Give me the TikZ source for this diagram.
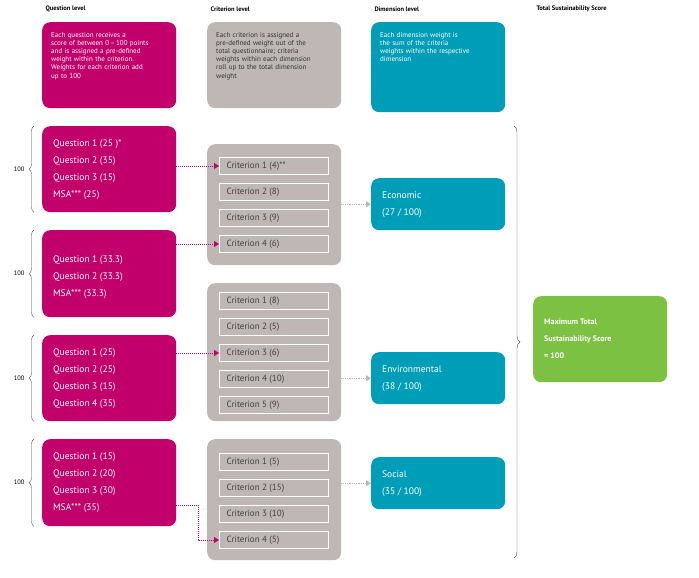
\documentclass[tikz,border=0pt]{standalone}
\usepackage{fontspec}
\setmainfont{PT Sans}
\usetikzlibrary{arrows.meta,decorations.pathreplacing,calc}
\definecolor{qmag}{HTML}{C2006B}
\definecolor{cgray}{HTML}{BEB7B3}
\definecolor{dteal}{HTML}{009DB8}
\definecolor{tgreen}{HTML}{7DC142}
\tikzset{
  box/.style={rounded corners=8pt, anchor=north west, inner sep=0pt},
  qbox/.style={box, fill=qmag},
  cbox/.style={box, fill=cgray},
  dbox/.style={box, fill=dteal},
  crit/.style={draw=white, line width=1pt, fill=cgray, anchor=north west, minimum width=109pt, minimum height=17pt, inner sep=0pt},
  crittext/.style={anchor=west, font=\fontsize{9}{11}\selectfont, text=black!75},
  head/.style={anchor=west, font=\fontsize{6.5}{8}\selectfont\bfseries},
  note/.style={anchor=north west, align=left, text=white, font=\fontsize{7}{8.2}\selectfont, inner sep=0pt},
  qtext/.style={anchor=west, align=left, text=white, font=\fontsize{9.5}{17}\selectfont, inner sep=0pt},
  qarrow/.style={qmag, densely dotted, line width=1pt, -{Triangle[length=5pt,width=6pt]}},
  garrow/.style={cgray, densely dotted, line width=0.8pt, -{Triangle[length=5pt,width=6pt]}},
  lbrace/.style={decorate, decoration={brace, amplitude=5pt, mirror}, black!70, thin},
}
\begin{document}
\begin{tikzpicture}[x=1pt,y=-1pt]
    \useasboundingbox (0,0) rectangle (699,578);
    %HEADERS
    \node[head] at (42,9) {Question level};
    \node[head] at (207,9) {Criterion level};
    \node[head] at (371,9) {Dimension level};
    \node[head] at (533,9) {Total Sustainability Score};
    %NOTES
    \node[qbox, minimum width=134pt, minimum height=86pt] (qnote) at (42,22) {};
    \node[note, text width=122pt] at ($(qnote.north west)+(9,10)$) {Each question receives a\\score of between 0\,–\,100 points\\and is assigned a pre-defined\\weight within the criterion.\\Weights for each criterion add\\up to 100};
    \node[cbox, minimum width=134pt, minimum height=86pt] (cnote) at (207,22) {};
    \node[note, text=black!80, text width=122pt] at ($(cnote.north west)+(9,10)$) {Each criterion is assigned a\\pre-defined weight out of the\\total questionnaire; criteria\\weights within each dimension\\roll up to the total dimension\\weight};
    \node[dbox, minimum width=134pt, minimum height=90pt] (dnote) at (371,22) {};
    \node[note, text width=122pt] at ($(dnote.north west)+(9,10)$) {Each dimension weight is\\the sum of the criteria\\weights within the respective\\dimension};
    %QUESTIONS
    \node[qbox, minimum width=134pt, minimum height=86pt] (q1) at (42,126) {};
    \node[qtext] at ($(q1.west)+(11,0)$) {Question 1 (25 )*\\Question 2 (35)\\Question 3 (15)\\MSA*** (25)};
    \node[qbox, minimum width=134pt, minimum height=87pt] (q2) at (42,230) {};
    \node[qtext] at ($(q2.west)+(11,3)$) {Question 1 (33.3)\\Question 2 (33.3)\\MSA*** (33.3)};
    \node[qbox, minimum width=134pt, minimum height=86pt] (q3) at (42,335) {};
    \node[qtext] at ($(q3.west)+(11,0)$) {Question 1 (25)\\Question 2 (25)\\Question 3 (15)\\Question 4 (35)};
    \node[qbox, minimum width=134pt, minimum height=87pt] (q4) at (42,439) {};
    \node[qtext] at ($(q4.west)+(11,0)$) {Question 1 (15)\\Question 2 (20)\\Question 3 (30)\\MSA*** (35)};
    %BRACES
    \foreach \q in {q1,q2,q3,q4}{
      \draw[lbrace] ($(\q.north west)+(-8,0)$) -- ($(\q.south west)+(-8,0)$)
        node[midway, left=6pt, font=\fontsize{6.5}{8}\selectfont, text=black] {100};
    }
    %CRITERIA
    \node[cbox, minimum width=134pt, minimum height=121pt] (ga) at (207,144) {};
    \node[cbox, minimum width=134pt, minimum height=138pt] (gb) at (207,283) {};
    \node[cbox, minimum width=134pt, minimum height=121pt] (gc) at (207,439) {};
    \foreach \i/\t in {1/4)**,2/8),3/9),4/6)}{
      \node[crit] (a\i) at (219,{157+26*(\i-1)}) {};
      \node[crittext] at ($(a\i.west)+(4,0)$) {Criterion \i\ (\t};
    }
    \foreach \i/\t in {1/8,2/5,3/6,4/10,5/9}{
      \node[crit] (b\i) at (219,{292+26*(\i-1)}) {};
      \node[crittext] at ($(b\i.west)+(4,0)$) {Criterion \i\ (\t)};
    }
    \foreach \i/\t in {1/5,2/15,3/10,4/5}{
      \node[crit] (c\i) at (219,{453+26*(\i-1)}) {};
      \node[crittext] at ($(c\i.west)+(4,0)$) {Criterion \i\ (\t)};
    }
    %DIMENSIONS
    \node[dbox, minimum width=134pt, minimum height=52pt] (econ) at (371,178) {};
    \node[qtext] at ($(econ.west)+(11,0)$) {Economic\\(27 / 100)};
    \node[dbox, minimum width=134pt, minimum height=52pt] (env) at (371,352) {};
    \node[qtext] at ($(env.west)+(11,0)$) {Environmental\\(38 / 100)};
    \node[dbox, minimum width=134pt, minimum height=52pt] (soc) at (371,457) {};
    \node[qtext] at ($(soc.west)+(11,0)$) {Social\\(35 / 100)};
    %TOTAL
    \node[box, fill=tgreen, minimum width=134pt, minimum height=86pt] (total) at (533,296) {};
    \node[qtext, font=\fontsize{8}{17}\selectfont\bfseries] at ($(total.west)+(11,0)$) {Maximum Total\\Sustainability Score\\= 100};
    \draw[decorate, decoration={brace, amplitude=6pt}, black!70, thin] (514,126) -- (514,558);
    %ARROWS
    \draw[qarrow] (q1.east |- a1.west) -- (a1.west);
    \draw[qarrow] (q2.east |- a4.west) -- (a4.west);
    \draw[qarrow] (q3.east |- b3.west) -- (b3.west);
    \draw[qarrow] (176,505) -| (198,540) -- (c4.west);
    \draw[garrow] (ga.east |- econ.west) -- (econ.west);
    \draw[garrow] (gb.east |- env.west) -- (env.west);
    \draw[garrow] (gc.east |- soc.west) -- (soc.west);
\end{tikzpicture}
\end{document}
